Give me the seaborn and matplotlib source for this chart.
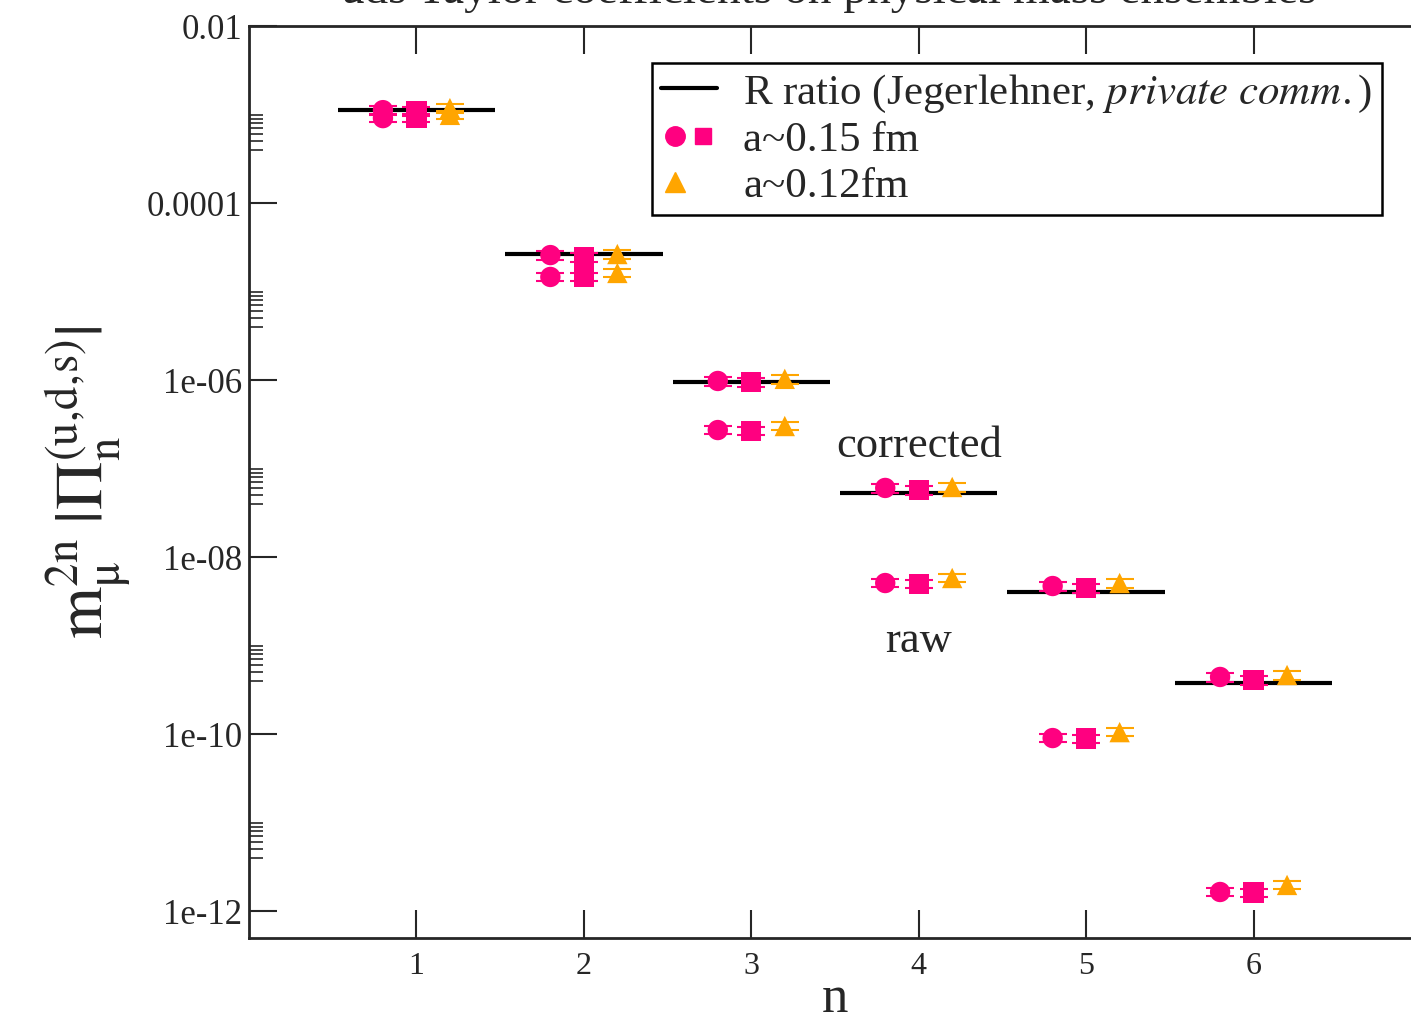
import numpy as np
import pandas as pd
import matplotlib
matplotlib.use("Agg")
import matplotlib.pyplot as plt
import seaborn as sns
from matplotlib.lines import Line2D
from matplotlib.legend_handler import HandlerTuple

# ---------------- data ----------------
n_vals = [1, 2, 3, 4, 5, 6]
r_ratio = [1.12e-3, 2.65e-5, 9.5e-7, 5.28e-8, 4.03e-9, 3.77e-10]

# a~0.15 fm, circles (offset -0.2) and squares (offset 0)
circ_corr = [1.12e-3, 2.58e-5, 9.75e-7, 6.03e-8, 4.70e-9, 4.41e-10]
circ_raw = [9.1e-4, 1.46e-5, 2.72e-7, 5.08e-9, 9.0e-11, 1.64e-12]
sq_corr = [1.08e-3, 2.46e-5, 9.5e-7, 5.71e-8, 4.46e-9, 4.07e-10]
sq_raw = [9.2e-4, 1.46e-5, 2.65e-7, 4.95e-9, 8.9e-11, 1.62e-12]
# a~0.12 fm, triangles (offset +0.2)
tri_corr = [1.18e-3, 2.65e-5, 1.03e-6, 6.18e-8, 5.08e-9, 4.64e-10]
tri_raw = [9.9e-4, 1.62e-5, 3.02e-7, 5.79e-9, 1.05e-10, 1.97e-12]

rel_err_corr = [0.12, 0.12, 0.12, 0.12, 0.12, 0.12]
rel_err_raw = [0.10, 0.10, 0.10, 0.10, 0.10, 0.10]

ytick_vals = [1e-12, 1e-10, 1e-8, 1e-6, 1e-4, 1e-2]
ytick_labels = ["1e-12", "1e-10", "1e-08", "1e-06", "0.0001", "0.01"]

title_text = "uds Taylor coefficients on physical mass ensembles"
legend_labels = ["R ratio (Jegerlehner, $\\it{private\\ comm.}$)", "a~0.15 fm", "a~0.12fm"]

PINK = "#FF0080"
ORANGE = "#FFA500"

# ---------------- style ----------------
sns.set_theme(style="ticks")
plt.rcParams["font.family"] = ["Liberation Serif", "DejaVu Serif"]
plt.rcParams["mathtext.fontset"] = "stix"
plt.rcParams["axes.linewidth"] = 2.0

fig = plt.figure(figsize=(14.11, 10.19), dpi=100)
ax = fig.add_axes([249 / 1411, 1 - 938 / 1019, (1421 - 249) / 1411, (938 - 26) / 1019])

# build long table
rows = []
for kind, off, corr, raw in [("circle", -0.2, circ_corr, circ_raw),
                              ("square", 0.0, sq_corr, sq_raw),
                              ("triangle", 0.2, tri_corr, tri_raw)]:
    for i, n in enumerate(n_vals):
        rows.append(dict(kind=kind, x=n + off, y=corr[i], err=corr[i] * rel_err_corr[i]))
        rows.append(dict(kind=kind, x=n + off, y=raw[i], err=raw[i] * rel_err_raw[i]))
df = pd.DataFrame(rows)

# R ratio horizontal lines
ax.hlines(r_ratio, np.array(n_vals) - 0.47, np.array(n_vals) + 0.47, color="black", lw=3, zorder=2)

# error bars
colors = {"circle": PINK, "square": PINK, "triangle": ORANGE}
for kind, sub in df.groupby("kind"):
    ax.errorbar(sub["x"], sub["y"], yerr=sub["err"], fmt="none", ecolor=colors[kind],
                elinewidth=1.5, capsize=10, capthick=1.5, zorder=3)

# markers through seaborn
sns.scatterplot(data=df, x="x", y="y", hue="kind", style="kind",
                palette=colors, markers={"circle": "o", "square": "s", "triangle": "^"},
                s=215, edgecolor="none", linewidth=0, legend=False, ax=ax, zorder=4)

ax.set_yscale("log")
ax.set_xlim(0, 7)
ax.set_ylim(10 ** -12.305, 1e-2)
ax.set_xticks(n_vals)
ax.set_xticklabels([str(n) for n in n_vals], fontsize=23)
ax.set_yticks(ytick_vals)
ax.set_yticklabels(ytick_labels, fontsize=25)
ax.yaxis.set_minor_locator(matplotlib.ticker.FixedLocator(
    [k * 10.0 ** d for d in range(-12, -2, 2) for k in range(4, 11)]))
ax.yaxis.set_minor_formatter(matplotlib.ticker.NullFormatter())
ax.tick_params(axis="both", which="major", direction="in", length=20, width=1.5,
               top=True, right=False)
ax.tick_params(axis="y", which="minor", direction="in", length=10, width=1.2, right=False)
ax.tick_params(axis="x", which="major", pad=10)
ax.tick_params(axis="y", which="major", pad=5)
ax.set_xlabel("n", fontsize=38, labelpad=-4)
ax.set_ylabel("$\\mathrm{m}_{\\mathrm{μ}}^{2\\mathrm{n}}\\;|\\Pi_{\\mathrm{n}}^{\\mathrm{(u,\\!d,\\!s)}}|$",
              fontsize=48, labelpad=10)
for s in ax.spines.values():
    s.set_linewidth(2)
ax.spines["right"].set_visible(False)

ax.text(4, 10 ** -6.75, "corrected", ha="center", va="center", fontsize=32)
ax.text(4, 10 ** -8.95, "raw", ha="center", va="center", fontsize=32)

fig.text(0.587, 1.008, title_text, ha="center", va="center", fontsize=34)

h_line = Line2D([], [], color="black", lw=3)
h_c = Line2D([], [], ls="none", marker="o", color=PINK, ms=14)
h_s = Line2D([], [], ls="none", marker="s", color=PINK, ms=12)
h_t = Line2D([], [], ls="none", marker="^", color=ORANGE, ms=14)
h_blank = Line2D([], [], ls="none", marker="s", color="none", ms=12)
leg = ax.legend([h_line, (h_c, h_s), (h_t, h_blank)], legend_labels,
                handler_map={tuple: HandlerTuple(ndivide=None, pad=0.0)},
                loc="upper left", bbox_to_anchor=((652 - 249) / 1172, (938 - 63) / 912),
                borderaxespad=0, fontsize=31, frameon=True, fancybox=False,
                edgecolor="black", framealpha=1, handlelength=1.3, handletextpad=0.6,
                labelspacing=0.15, borderpad=0.22)
leg.get_frame().set_linewidth(1.8)

fig.savefig("out.png", dpi=100)
